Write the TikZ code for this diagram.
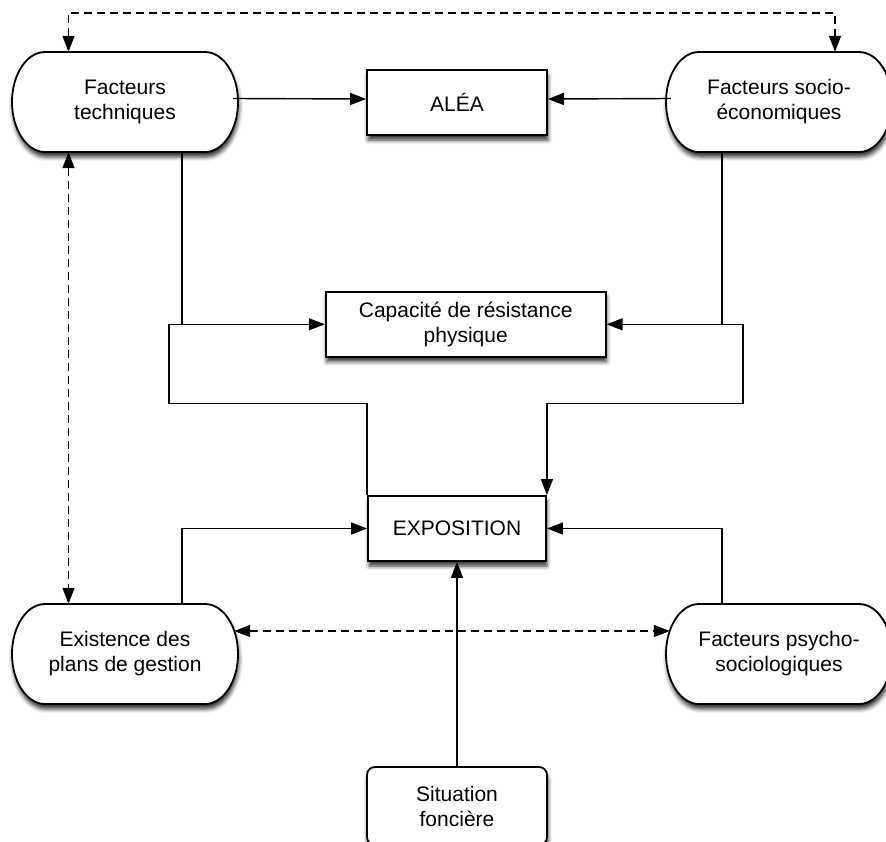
\documentclass[tikz,border=0pt]{standalone}
\usepackage{fontspec}
\setmainfont{Liberation Sans}
\usetikzlibrary{arrows.meta,calc,shadows.blur}

\tikzset{
  lbl/.style={font=\fontsize{21}{25}\selectfont, align=center, inner sep=0pt},
  softshadow/.style={blur shadow={shadow xshift=1pt,shadow yshift=-5pt,shadow blur radius=4pt,shadow opacity=80}},
  box/.style={lbl, draw=black, line width=1.8pt, fill=white, softshadow,
              minimum width=180pt, minimum height=65pt},
  pillnode/.style={lbl, minimum width=226pt, minimum height=100pt},
  pillline/.style={draw=black, line width=1.8pt, fill=white, softshadow},
  conn/.style={line width=1.4pt, draw=black},
  arr/.style={conn, -{Triangle[length=16pt,width=12pt]}},
  darr/.style={conn, dash pattern=on 8pt off 5pt,
               {Triangle[length=16pt,width=12pt]}-{Triangle[length=16pt,width=12pt]}},
}

% pill outline centred at (#1,#2), 226 x 100
\newcommand\pillat[2]{%
  \draw[pillline] (#1-80,#2-50) -- (#1+80,#2-50)
    arc[start angle=90, end angle=-90, x radius=33pt, y radius=50pt]
    -- (#1-80,#2+50)
    arc[start angle=270, end angle=90, x radius=33pt, y radius=50pt] -- cycle;}

\begin{document}
\begin{tikzpicture}[x=1pt,y=-1pt]
\useasboundingbox (0,0) rectangle (886,841);

% pill outlines
\pillat{125}{102}
\pillat{779}{102}
\pillat{125}{654}
\pillat{779}{654}

% pill nodes
\node[pillnode] (ft)  at (125,102) {Facteurs\\techniques};
\node[pillnode] (fse) at (779,102) {Facteurs socio-\\économiques};
\node[pillnode] (epg) at (125,654) {Existence des\\plans de gestion};
\node[pillnode] (fps) at (779,654) {Facteurs psycho-\\sociologiques};

% rectangular nodes
\node[box] (alea) at (457,102.5) {ALÉA};
\node[box, minimum width=280pt] (cap) at (465.7,324.3) {Capacité de résistance\\physique};
\node[box, minimum width=178pt] (expo) at (457,528.5) {EXPOSITION};
\node[box, minimum height=78pt, rounded corners=8pt] (sf) at (457,806) {Situation\\foncière};

% helper coordinates
\coordinate (ftd)  at ([xshift=57pt]ft.south);
\coordinate (fsed) at ([xshift=-57pt]fse.south);
\coordinate (jl) at ([xshift=-13pt]ftd |- cap.west);
\coordinate (lb) at ($(jl)+(0,79)$);
\coordinate (jr) at ([xshift=21pt]fsed |- cap.east);
\coordinate (rb) at ($(jr)+(0,79)$);
\coordinate (epgu) at ([xshift=57pt]epg.north);
\coordinate (fpsu) at ([xshift=-57pt]fps.north);
\coordinate (ftt)  at ([xshift=-56.5pt]ft.north);
\coordinate (fset) at ([xshift=56pt]fse.north);

% solid connectors
\draw[arr] ([xshift=-5pt,yshift=3.5pt]ft.east) -- ([yshift=3.5pt]alea.west);
\draw[arr] ([xshift=5pt,yshift=3.5pt]fse.west) -- ([yshift=3.5pt]alea.east);
\draw[arr] (ftd) |- (cap.west);
\draw[arr] (fsed) |- (cap.east);
\draw[conn] (ftd |- cap.west) -- (jl) -- (lb) -| (expo.north west);
\draw[arr] (fsed |- cap.east) -- (jr) -- (rb) -| (expo.north east);
\draw[arr] (epgu) |- (expo.west);
\draw[arr] (fpsu) |- (expo.east);
\draw[arr] (sf.north) -- (expo.south);

% dashed connectors
\draw[darr] (ftt) -- ++(0,-39) -| (fset);
\draw[darr] (ft.south -| ftt) -- (epg.north -| ftt);
\draw[darr] ([xshift=-4pt,yshift=23pt]epg.east) -- ([xshift=4pt,yshift=23pt]fps.west);
\end{tikzpicture}
\end{document}
